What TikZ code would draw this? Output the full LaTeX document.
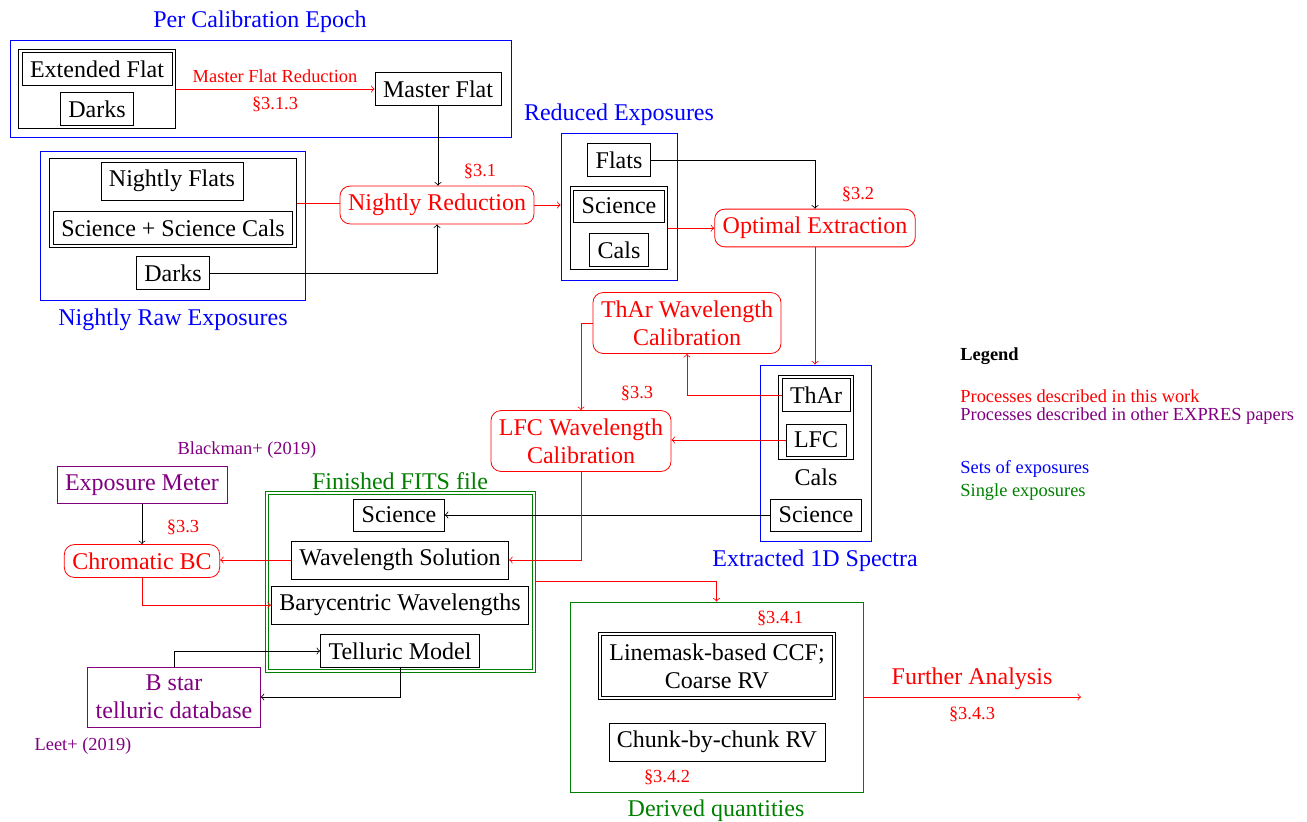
\documentclass[tikz,border=0pt]{standalone}
\usepackage{fontspec}
\setmainfont{Liberation Serif}
\usetikzlibrary{fit}
\definecolor{mypurple}{RGB}{128,0,128}
\definecolor{mygreen}{RGB}{0,128,0}
\begin{document}
\begin{tikzpicture}[x=0.5pt,y=-0.5pt,
  font=\fontsize{12}{14}\selectfont,
  every node/.style={inner sep=4pt},
  box/.style={draw=black, line width=0.4pt},
  proc/.style={draw=red, text=red, rounded corners=5pt, align=center},
  extp/.style={draw=mypurple, text=mypurple, align=center},
  grp/.style={draw=black, inner sep=1.5pt},
  setbox/.style={draw=blue, inner sep=0pt},
  singlebox/.style={draw=mygreen, inner sep=0pt},
  ttl/.style={inner sep=0pt},
  sm/.style={font=\fontsize{9.2}{11}\selectfont, inner sep=0pt},
  rarr/.style={draw=red, ->},
  rline/.style={draw=red},
  barr/.style={draw=black, ->},
]
\useasboundingbox (0,0) rectangle (1307,821);

% ---------- Per calibration epoch ----------
\node[ttl, text=blue] (tpce) at (260,22) {Per Calibration Epoch};
\node[setbox, fit={(10,40) (511,137)}] (pce) {};
\node[box] (ef) at (97,69) {Extended Flat};
\node[box] (dk1) at (97,109) {Darks};
\node[grp, fit=(ef) (dk1)] (gEF) {};
\node[box] (mf) at (438,89) {Master Flat};
\draw[rarr] (gEF.east) -- (gEF.east -| mf.west);
\node[sm, text=red] (lmfr) at (275,76) {Master Flat Reduction};
\node[sm, text=red] (l313) at (275,104) {§3.1.3};

% ---------- Nightly raw exposures ----------
\node[setbox, fit={(40,151) (305,300)}] (nre) {};
\node[ttl, text=blue] (tnre) at (173,320) {Nightly Raw Exposures};
\node[box] (nf) at (172,181) {Nightly Flats};
\node[box] (ssc) at (173,228) {Science + Science Cals};
\node[grp, fit=(nf) (ssc)] (gNF) {};
\node[box] (dk2) at (173,273) {Darks};

\node[proc] (nr) at (437,205) {Nightly Reduction};
\node[sm, text=red] (l31) at (480,171) {§3.1};
\draw[barr] (mf.south) -- (mf.south |- nr.north);
\draw[rline] (gNF.east) -- (gNF.east -| nr.west);
\draw[barr] (dk2.east) -| (nr.south);

% ---------- Reduced exposures ----------
\node[ttl, text=blue] (tre) at (619,115) {Reduced Exposures};
\node[setbox, fit={(561,133) (677,280)}] (re) {};
\node[box] (rflats) at (619,160) {Flats};
\node[box] (rsci) at (619,206) {Science};
\node[box] (rcals) at (619,250) {Cals};
\node[grp, fit=(rsci) (rcals)] (gSC) {};
\draw[rarr] (nr.east) -- (nr.east -| re.west);

\node[proc] (oe) at (815,228) {Optimal Extraction};
\node[sm, text=red] (l32) at (858,194) {§3.2};
\draw[barr] (rflats.east) -| (oe.north);
\draw[rarr] (gSC.east) -- (gSC.east -| oe.west);

% ---------- Extracted 1D spectra ----------
\node[setbox, fit={(760,365) (871,541)}] (ext) {};
\node[ttl, text=blue] (text1d) at (815,561) {Extracted 1D Spectra};
\node[box] (thar) at (816,395) {ThAr};
\node[box] (lfc) at (816,440) {LFC};
\node[grp, fit=(thar) (lfc)] (gCal) {};
\node[ttl] (tcals) at (816,477) {Cals};
\node[box] (esci) at (816,515) {Science};
\draw[rarr] (oe.south) -- (oe.south |- ext.north);

\node[proc] (thwc) at (687,323) {ThAr Wavelength\\Calibration};
\node[proc] (lfcwc) at (581,441) {LFC Wavelength\\Calibration};
\node[sm, text=red] (l33a) at (637,393) {§3.3};
\draw[rarr] (thar.west) -| (thwc.south);
\draw[rarr] (thwc.west) -| (lfcwc.north);
\draw[rarr] (lfc.west) -- (lfc.west -| lfcwc.east);

% ---------- Finished FITS file ----------
\node[ttl, text=mygreen] (tfits) at (400,481) {Finished FITS file};
\node[singlebox, fit={(265,491) (535,672)}] (fits) {};
\node[singlebox, fit={(268,494) (532,669)}] (fitsin) {};
\node[box] (fsci) at (399,515) {Science};
\node[box] (ws) at (400,560) {Wavelength Solution};
\node[box] (bw) at (400,605) {Barycentric Wavelengths};
\node[box] (tm) at (400,651) {Telluric Model};
\draw[barr] (esci.west) -- (esci.west -| fsci.east);
\draw[rarr] (lfcwc.south) |- (ws.east);

% ---------- Chromatic BC ----------
\node[sm, text=mypurple] (lblack) at (247,450) {Blackman+ (2019)};
\node[extp] (em) at (142,485) {Exposure Meter};
\node[proc] (cbc) at (142,561) {Chromatic BC};
\node[sm, text=red] (l33b) at (183,527) {§3.3};
\draw[barr] (em.south) -- (em.south |- cbc.north);
\draw[rarr] (ws.west) -- (ws.west -| cbc.east);
\draw[rarr] (cbc.south) |- (bw.west);

% ---------- Tellurics ----------
\node[extp] (bstar) at (174,697) {B star\\telluric database};
\node[sm, text=mypurple] (lleet) at (83,746) {Leet+ (2019)};
\draw[barr] (bstar.north) |- (tm.west);
\draw[barr] (tm.south) |- (bstar.east);

% ---------- Derived quantities ----------
\node[singlebox, fit={(570,602) (863,792)}] (dq) {};
\node[ttl, text=mygreen] (tdq) at (716,811) {Derived quantities};
\node[box, align=center] (lm) at (717,666) {Linemask-based CCF;\\Coarse RV};
\node[draw=black, inner sep=1.3pt, fit=(lm)] (lmout) {};
\node[box] (cbc2) at (717,742) {Chunk-by-chunk RV};
\node[sm, text=red] (l341) at (780,618) {§3.4.1};
\node[sm, text=red] (l342) at (667,777) {§3.4.2};
\draw[rarr] (fits.east) -| (dq.north);

\coordinate (fa) at (1081,697);
\draw[rarr] (dq.east) -- (fa);
\node[ttl, text=red] (tfa) at (972,679) {Further Analysis};
\node[sm, text=red] (l343) at (972,714) {§3.4.3};

% ---------- Legend ----------
\node[sm, anchor=west, font=\fontsize{9.2}{11}\selectfont\bfseries] (leg) at (960,356) {Legend};
\node[sm, anchor=west, text=red] (leg1) at (960,396) {Processes described in this work};
\node[sm, anchor=west, text=mypurple] (leg2) at (960,416) {Processes described in other EXPRES papers};
\node[sm, anchor=west, text=blue] (leg3) at (960,469) {Sets of exposures};
\node[sm, anchor=west, text=mygreen] (leg4) at (960,492) {Single exposures};
\end{tikzpicture}
\end{document}
